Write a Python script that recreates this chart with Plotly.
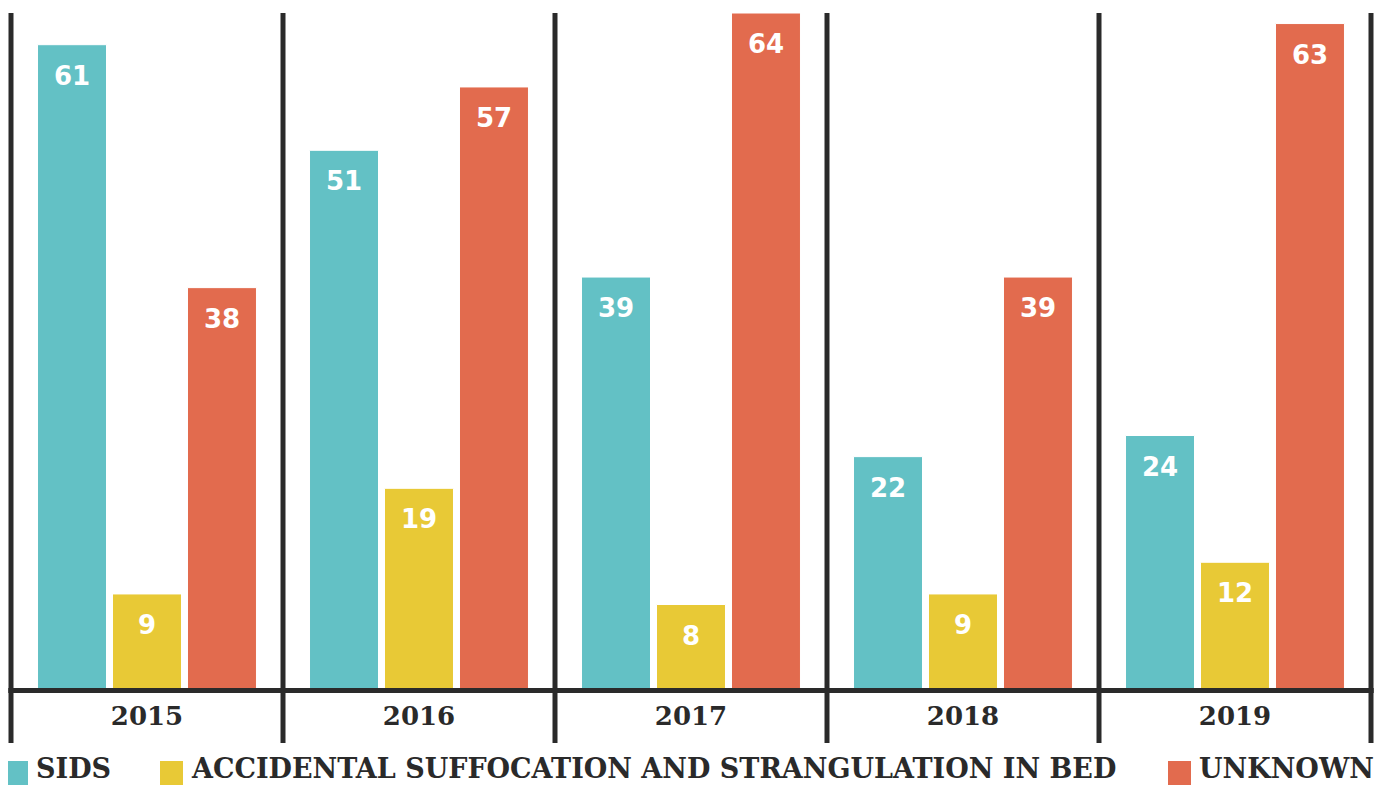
import plotly.graph_objects as go

years = ["2015", "2016", "2017", "2018", "2019"]
series_names = ["SIDS", "ACCIDENTAL SUFFOCATION AND STRANGULATION IN BED", "UNKNOWN"]
sids = [61, 51, 39, 22, 24]
accidental = [9, 19, 8, 9, 12]
unknown = [38, 57, 64, 39, 63]
colors = ["#63c1c5", "#e8c936", "#e26b4e"]
series = [sids, accidental, unknown]

DARK = "#2a2a2a"
BARGAP = 0.173
GROUPGAP = 0.08

fig = go.Figure()
for name, vals, col in zip(series_names, series, colors):
    fig.add_trace(go.Bar(
        x=years, y=vals, name=name, marker_color=col,
        marker_line=dict(color="white", width=1),
        showlegend=False, hoverinfo="x+y",
    ))

# value labels inside bars near top
slot = (1 - BARGAP) / 3
for k, vals in enumerate(series):
    for i, v in enumerate(vals):
        fig.add_annotation(
            x=i + (k - 1) * slot, y=v, xref="x", yref="y",
            text=f"<b>{v}</b>", showarrow=False, yanchor="middle", yshift=-31,
            font=dict(family="DejaVu Sans", size=26, color="white"),
        )

# page pixel helpers relative to plot area
W = 1360.0
H = 676.0
def px_x(p):
    return (p - 11) / W
def px_y(p):
    return (689 - p) / H

n = len(years)
shapes = []
# vertical separators
for i in range(n + 1):
    shapes.append(dict(type="line", xref="paper", yref="paper",
                       x0=i / n, x1=i / n, y0=px_y(743), y1=1,
                       line=dict(color=DARK, width=5)))
# baseline
shapes.append(dict(type="line", xref="paper", yref="paper", x0=-0.002, x1=1.002,
                   y0=px_y(690.5), y1=px_y(690.5), line=dict(color=DARK, width=5)))

# custom legend: squares + labels
legend_pos = [5, 160, 1168]
for name, col, lx in zip(series_names, colors, legend_pos):
    shapes.append(dict(type="rect", xref="paper", yref="paper",
                       x0=px_x(lx), x1=px_x(lx + 23), y0=px_y(761), y1=px_y(786),
                       fillcolor=col, line=dict(width=0)))
    fig.add_annotation(
        x=px_x(lx + 30), y=px_y(768), xref="paper", yref="paper",
        text=f"<b>{name}</b>", showarrow=False, xanchor="left", yanchor="middle",
        borderpad=0,
        font=dict(family="DejaVu Serif", size=27, color=DARK),
    )

# page body has an 8px default margin; compensate
fig.update_layout(
    shapes=shapes,
    barmode="group", bargap=BARGAP, bargroupgap=GROUPGAP,
    width=1383, height=777,
    margin=dict(l=3, r=20, t=5, b=96, pad=0),
    plot_bgcolor="white", paper_bgcolor="white",
    xaxis=dict(
        type="category", range=[-0.5, 4.5], showgrid=False, zeroline=False,
        showline=False, ticks="", ticklabelstandoff=9,
        tickfont=dict(family="DejaVu Serif", size=26, color=DARK),
        tickvals=years, ticktext=[f"<b>{y}</b>" for y in years],
    ),
    yaxis=dict(range=[0, 64], showgrid=False, zeroline=False, showticklabels=False,
               showline=False, ticks=""),
)

fig.write_html("out.html")
